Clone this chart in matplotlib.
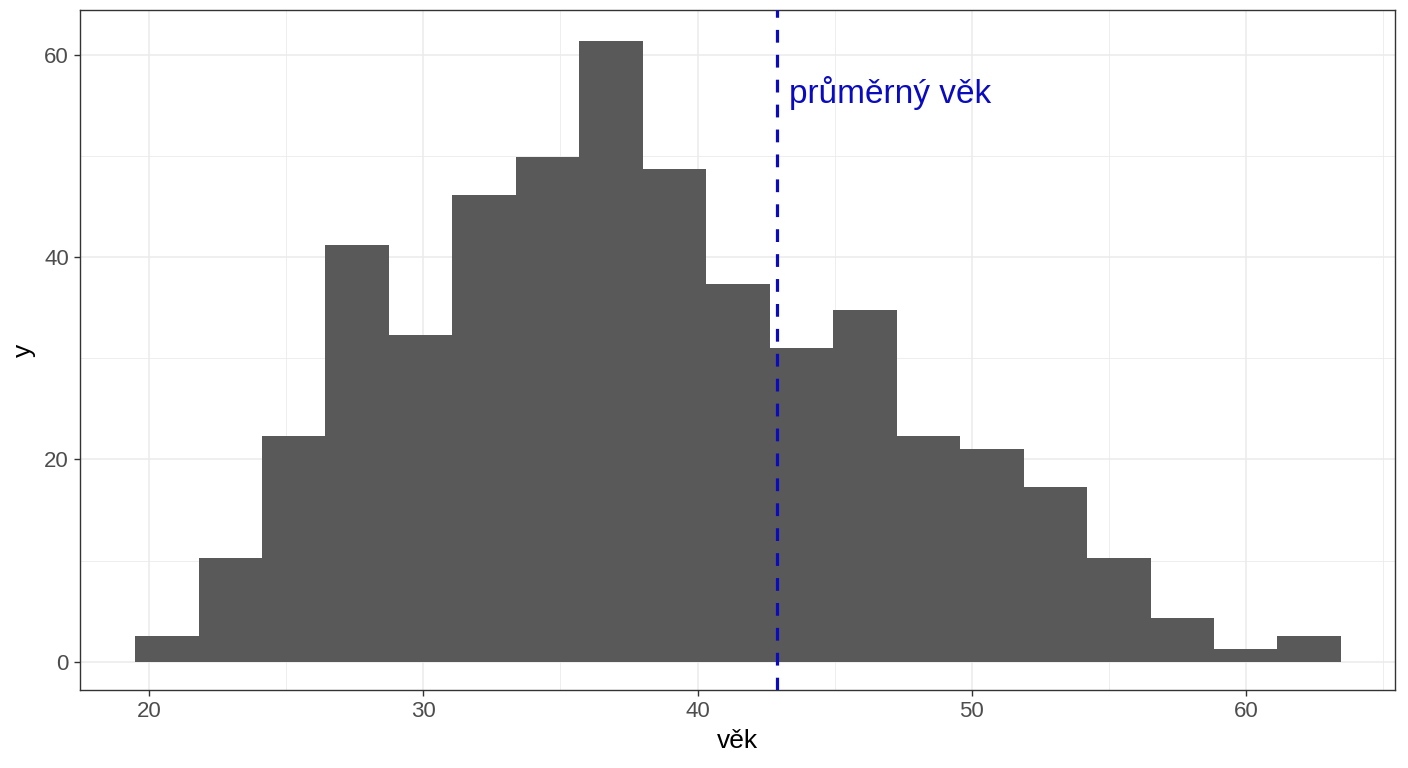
import numpy as np
import matplotlib.pyplot as plt
from matplotlib.ticker import MultipleLocator

plt.rcParams['font.family'] = ['Liberation Sans', 'DejaVu Sans']

# histogram bins (věk) and heights
bin_start = 19.49
bin_width = 2.314
heights = [2.57, 10.3, 22.3, 41.2, 32.3, 46.1, 49.9, 61.3, 48.7, 37.3,
           31.0, 34.8, 22.3, 21.0, 17.3, 10.3, 4.35, 1.28, 2.57]
edges = bin_start + bin_width * np.arange(len(heights) + 1)
mean_age = 42.89
label_text = "průměrný věk"

blue = '#0A0ABE'

fig = plt.figure(figsize=(14.08, 7.68), dpi=100)
ax = fig.add_axes([0.0568, 0.1016, 0.934, 0.8854])

ax.bar(edges[:-1], heights, width=bin_width, align='edge',
       color='#595959', edgecolor='none', zorder=2)
ax.axvline(mean_age, color=blue, linestyle=(0, (4, 3.8)), linewidth=2.3, zorder=3)
ax.text(mean_age + 0.45, 56.2, label_text, color=blue, fontsize=24,
        va='center', ha='left', zorder=4)

ax.set_xlim(17.48, 65.43)
ax.set_ylim(-2.77, 64.4)
ax.xaxis.set_major_locator(MultipleLocator(10))
ax.xaxis.set_minor_locator(MultipleLocator(5))
ax.yaxis.set_major_locator(MultipleLocator(20))
ax.yaxis.set_minor_locator(MultipleLocator(10))
ax.grid(which='major', color='#EBEBEB', linewidth=1.1, zorder=0)
ax.grid(which='minor', color='#EBEBEB', linewidth=0.6, zorder=0)
ax.set_axisbelow(True)

ax.tick_params(which='major', length=4, width=1.0, color='#333333',
               labelcolor='#4D4D4D', labelsize=16, pad=4)
ax.tick_params(which='minor', length=0)
for s in ax.spines.values():
    s.set_color('#333333')
    s.set_linewidth(1.0)

ax.set_xlabel('věk', fontsize=19, labelpad=5)
ax.set_ylabel('y', fontsize=19, labelpad=6)

fig.savefig('out.png', dpi=100)
